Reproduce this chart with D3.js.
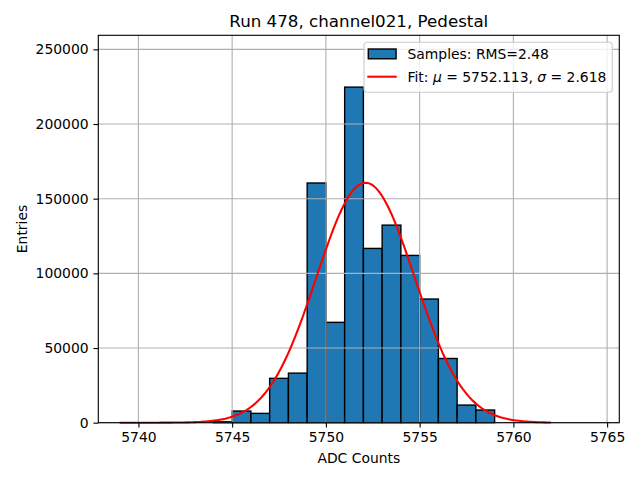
<!DOCTYPE html>
<html>
<head>
<meta charset="utf-8">
<style>
    body{ margin:0; background:#fff; }
    svg{ font-family:"DejaVu Sans", sans-serif; }
</style>
</head>
<body>
<svg width="640" height="480"></svg>
<script src="https://cdn.jsdelivr.net/npm/d3@7"></script>
<script>
    // histogram bins (left edge, width 1 ADC count)
    var binLeft=[5744,5745,5746,5747,5748,5749,5750,5751,5752,5753,5754,5755,5756,5757,5758];
    var binCounts=[600,7800,6250,29700,33200,160500,67200,224700,116700,132300,112000,82800,43000,11800,8500];

    // fit parameters (from legend) and curve range
    var fitMu=5752.113, fitSigma=2.618, fitAmp=160700;
    var fitRange=[5739,5762];

    var xTicks=[5740,5745,5750,5755,5760,5765];
    var yTicks=[0,50000,100000,150000,200000,250000];

    var svg=d3.select("svg");
    var margin={left:98.3,right:640-619.3,top:35.3,bottom:480-422.7};
    var w=640-margin.left-margin.right, h=480-margin.top-margin.bottom;

    var x=d3.scaleLinear().domain([5737.86,5765.65]).range([0,w]);
    var y=d3.scaleLinear().domain([0,259400]).range([h,0]);

    var g=svg.append("g").attr("transform","translate("+margin.left+","+margin.top+")");

    // bars
    g.selectAll("rect.bar")
        .data(binLeft)
        .enter().append("rect")
        .attr("class","bar")
        .attr("x",function(d){ return x(d); })
        .attr("y",function(d,i){ return y(binCounts[i]); })
        .attr("width",function(d){ return x(d+1)-x(d); })
        .attr("height",function(d,i){ return h-y(binCounts[i]); })
        .attr("fill","#1f77b4")
        .attr("stroke","#000")
        .attr("stroke-width",1.39);

    // grid over bars, under the fit line
    var grid=g.append("g");
    grid.selectAll("line.gx").data(xTicks).enter().append("line")
        .attr("x1",function(d){ return x(d); }).attr("x2",function(d){ return x(d); })
        .attr("y1",0).attr("y2",h)
        .attr("stroke","#b0b0b0").attr("stroke-width",1.11);
    grid.selectAll("line.gy").data(yTicks).enter().append("line")
        .attr("y1",function(d){ return y(d); }).attr("y2",function(d){ return y(d); })
        .attr("x1",0).attr("x2",w)
        .attr("stroke","#b0b0b0").attr("stroke-width",1.11);

    // gaussian fit line
    var fitX=d3.range(0,201).map(function(i){ return fitRange[0]+(fitRange[1]-fitRange[0])*i/200; });
    var line=d3.line()
        .x(function(d){ return x(d); })
        .y(function(d){ return y(fitAmp*Math.exp(-Math.pow(d-fitMu,2)/(2*fitSigma*fitSigma))); });
    g.append("path")
        .datum(fitX)
        .attr("d",line)
        .attr("fill","none")
        .attr("stroke","red")
        .attr("stroke-width",2.08);

    // axes
    var xAxis=d3.axisBottom(x).tickValues(xTicks).tickSize(4.86).tickPadding(4.86).tickFormat(d3.format("d"));
    var yAxis=d3.axisLeft(y).tickValues(yTicks).tickSize(4.86).tickPadding(4.86).tickFormat(d3.format("d"));
    var gx=g.append("g").attr("transform","translate(0,"+h+")").call(xAxis);
    var gy=g.append("g").call(yAxis);
    [gx,gy].forEach(function(a){
        a.select(".domain").remove();
        a.selectAll("line").attr("stroke","#000").attr("stroke-width",1.11);
        a.selectAll("text").attr("font-size",13.9).attr("font-family","DejaVu Sans").attr("fill","#000");
    });

    // frame
    g.append("rect").attr("x",0).attr("y",0).attr("width",w).attr("height",h)
        .attr("fill","none").attr("stroke","#000").attr("stroke-width",1.11);

    // title and labels
    svg.append("text").attr("x",margin.left+w/2).attr("y",27.3)
        .attr("text-anchor","middle").attr("font-size",16.7)
        .text("Run 478, channel021, Pedestal");
    svg.append("text").attr("x",margin.left+w/2).attr("y",462.5)
        .attr("text-anchor","middle").attr("font-size",13.9)
        .text("ADC Counts");
    svg.append("text").attr("transform","translate(26.5,"+(margin.top+h/2)+") rotate(-90)")
        .attr("text-anchor","middle").attr("font-size",13.9)
        .text("Entries");

    // legend
    var lg=svg.append("g");
    lg.append("rect").attr("x",364).attr("y",42.3).attr("width",248.3).attr("height",50)
        .attr("rx",3).attr("fill","#fff").attr("fill-opacity",0.8)
        .attr("stroke","#cccccc").attr("stroke-width",1.11);
    lg.append("rect").attr("x",368.3).attr("y",49).attr("width",27.8).attr("height",9.8)
        .attr("fill","#1f77b4").attr("stroke","#000").attr("stroke-width",1.39);
    lg.append("line").attr("x1",367.3).attr("x2",396.7).attr("y1",76.7).attr("y2",76.7)
        .attr("stroke","red").attr("stroke-width",2.08);
    lg.append("text").attr("x",407.5).attr("y",59).attr("font-size",13.9)
        .text("Samples: RMS=2.48");
    var t2=lg.append("text").attr("x",407.5).attr("y",81.5).attr("font-size",13.9);
    t2.append("tspan").text("Fit: ");
    t2.append("tspan").attr("font-style","italic").text("\u03bc");
    t2.append("tspan").text(" = 5752.113, ");
    t2.append("tspan").attr("font-style","italic").text("\u03c3");
    t2.append("tspan").text(" = 2.618");
</script>
</body>
</html>
